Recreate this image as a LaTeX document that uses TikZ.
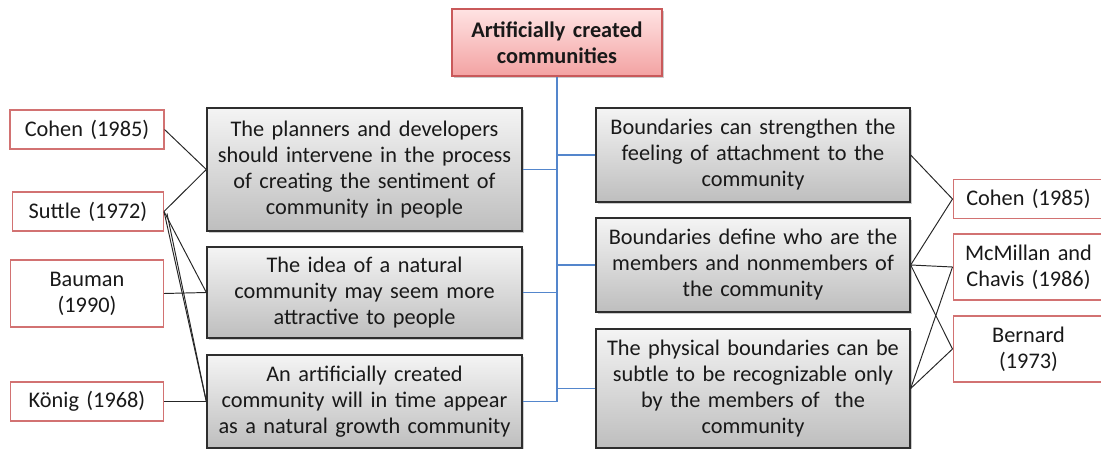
\documentclass[tikz,border=0pt]{standalone}
\usepackage{fontspec}
\setmainfont{Carlito}
\usepackage{xcolor}
\usetikzlibrary{shadows}

\definecolor{claimline}{HTML}{2E2E2E}
\definecolor{claimtop}{HTML}{F4F4F4}
\definecolor{claimbot}{HTML}{BEBEBE}
\definecolor{rootline}{HTML}{C9595A}
\definecolor{roottop}{HTML}{FFE3E3}
\definecolor{rootbot}{HTML}{F3A2A2}
\definecolor{authline}{HTML}{D27272}
\definecolor{trunkblue}{HTML}{5486CC}

\newcommand{\diagfont}{\fontsize{12.7pt}{14.8pt}\selectfont}

\tikzset{
  root/.style={draw=rootline, line width=0.8pt, top color=roottop, bottom color=rootbot,
    align=center, inner sep=0pt, text width=4.2cm, minimum height=1.34cm, font=\diagfont\bfseries,
    drop shadow={shadow xshift=1.2pt, shadow yshift=-1.2pt, fill=black!40}},
  claim/.style={draw=claimline, line width=0.8pt, top color=claimtop, bottom color=claimbot,
    align=center, inner sep=0pt,
    drop shadow={shadow xshift=1.2pt, shadow yshift=-1.2pt, fill=black!40}},
  author/.style={draw=authline, line width=0.6pt, fill=white, align=center, inner sep=0pt,
    minimum height=0.78cm},
  trunk/.style={draw=trunkblue, line width=0.7pt},
  link/.style={draw=black!85, line width=0.55pt}
}

\begin{document}
\begin{tikzpicture}[x=0.02cm, y=-0.02cm, font=\diagfont, text=black!90]

  \useasboundingbox (0,0) rectangle (1101,449);

  \node[root] (root) at (557,42.5) {Artificially created\\communities};

  \node[claim, text width=6.3cm, minimum height=2.46cm] (claimA) at (364.5,169.5)
    {The planners and developers\\should intervene in the process\\of creating the sentiment of\\community in people};
  \node[claim, text width=6.3cm, minimum height=1.82cm] (claimB) at (364.5,292.5)
    {The idea of a natural\\community may seem more\\attractive to people};
  \node[claim, text width=6.3cm, minimum height=1.86cm] (claimC) at (364.5,401.5)
    {An artificially created\\community will in time appear\\as a natural growth community};

  \node[claim, text width=6.28cm, minimum height=1.88cm] (boundA) at (753,155)
    {Boundaries can strengthen the\\feeling of attachment to the\\community};
  \node[claim, text width=6.28cm, minimum height=1.88cm] (boundB) at (753,265)
    {Boundaries define who are the\\members and nonmembers of\\the community};
  \node[claim, text width=6.28cm, minimum height=2.38cm] (boundC) at (753,388.5)
    {The physical boundaries can be\\subtle to be recognizable only\\by the members of~ the\\community};

  \node[author, text width=3.08cm] (cohenL) at (87,129.5) {Cohen (1985)};
  \node[author, text width=3.02cm] (suttle) at (88,211.5) {Suttle (1972)};
  \node[author, text width=3.06cm, minimum height=1.34cm] (bauman) at (87,293.5) {Bauman\\(1990)};
  \node[author, text width=3.06cm] (konig) at (87,401.5) {König (1968)};

  \node[author, text width=3.02cm] (cohenR) at (1028.5,199) {Cohen (1985)};
  \node[author, text width=3.02cm, minimum height=1.32cm] (mcmillan) at (1028.5,267) {McMillan and\\Chavis (1986)};
  \node[author, text width=3.02cm, minimum height=1.32cm] (bernard) at (1028.5,349) {Bernard\\(1973)};

  \draw[trunk] (root.south) -- (root.south |- claimC.east);
  \draw[trunk] (claimA.east) -- (claimA.east -| root.south);
  \draw[trunk] (claimB.east) -- (claimB.east -| root.south);
  \draw[trunk] (claimC.east) -- (claimC.east -| root.south);
  \draw[trunk] (boundA.west) -- (boundA.west -| root.south);
  \draw[trunk] (boundB.west) -- (boundB.west -| root.south);
  \draw[trunk] (boundC.west) -- (boundC.west -| root.south);

  \draw[link] (cohenL.east) -- (claimA.west);
  \draw[link] (suttle.east) -- (claimA.west);
  \draw[link] (suttle.east) -- (claimB.west);
  \draw[link] (suttle.east) -- (claimC.west);
  \draw[link] ([xshift=0.06cm,yshift=-0.04cm]suttle.east) -- (claimC.west);
  \draw[link] (bauman.east) -- (claimB.west);
  \draw[link] (konig.east) -- (claimC.west);

  \draw[link] (boundA.east) -- (cohenR.west);
  \draw[link] (boundB.east) -- (cohenR.west);
  \draw[link] (boundB.east) -- (mcmillan.west);
  \draw[link] (boundB.east) -- (bernard.west);
  \draw[link] (boundC.east) -- (mcmillan.west);
  \draw[link] (boundC.east) -- (bernard.west);

\end{tikzpicture}
\end{document}
